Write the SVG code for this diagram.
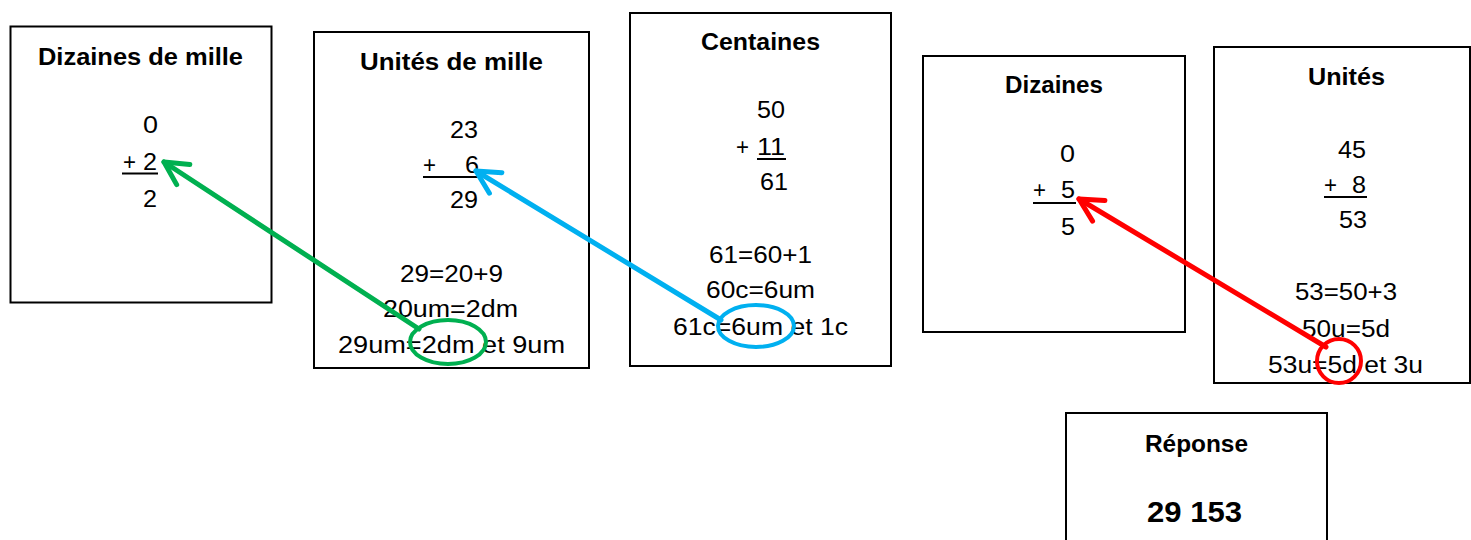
<svg xmlns="http://www.w3.org/2000/svg" width="1471" height="540" viewBox="0 0 1471 540">
<style>
.box{fill:#fff;stroke:#000;stroke-width:2}
.t{font-family:"Liberation Sans",Arial,sans-serif;font-size:23px;fill:#000}
.b{font-family:"Liberation Sans",Arial,sans-serif;font-size:23px;font-weight:bold;fill:#000}
.ul{stroke:#000;stroke-width:2}
.g{stroke:#00b050}.c{stroke:#00b0f0}.r{stroke:#ff0000}
.arr{fill:none;stroke-width:5;stroke-linecap:round}
.ring{fill:none;stroke-width:4}
</style>
<defs>
<marker id="mg" markerUnits="userSpaceOnUse" markerWidth="40" markerHeight="40" viewBox="-30 -20 40 40" refX="0" refY="0" orient="auto"><path d="M-23,-12 L0,0 L-23,12" fill="none" stroke="#00b050" stroke-width="5" stroke-linecap="round" stroke-linejoin="round"/></marker>
<marker id="mc" markerUnits="userSpaceOnUse" markerWidth="40" markerHeight="40" viewBox="-30 -20 40 40" refX="0" refY="0" orient="auto"><path d="M-23,-12 L0,0 L-23,12" fill="none" stroke="#00b0f0" stroke-width="5" stroke-linecap="round" stroke-linejoin="round"/></marker>
<marker id="mr" markerUnits="userSpaceOnUse" markerWidth="40" markerHeight="40" viewBox="-30 -20 40 40" refX="0" refY="0" orient="auto"><path d="M-23,-12 L0,0 L-23,12" fill="none" stroke="#ff0000" stroke-width="5" stroke-linecap="round" stroke-linejoin="round"/></marker>
</defs>
<rect width="1471" height="540" fill="#fff"/>

<g id="dizaines-de-mille">
<rect class="box" x="10.5" y="26.5" width="261" height="276"/>
<text class="b" x="38" y="65" textLength="205" lengthAdjust="spacingAndGlyphs">Dizaines de mille</text>
<text class="t" x="143" y="133" textLength="15" lengthAdjust="spacingAndGlyphs">0</text>
<text class="t" x="123" y="170" textLength="13" lengthAdjust="spacingAndGlyphs">+</text>
<text class="t" x="143" y="170" textLength="14" lengthAdjust="spacingAndGlyphs">2</text>
<line class="ul" x1="122" y1="173.5" x2="158" y2="173.5"/>
<text class="t" x="143" y="207" textLength="14" lengthAdjust="spacingAndGlyphs">2</text>
</g>

<g id="unites-de-mille">
<rect class="box" x="314" y="32" width="275" height="336"/>
<text class="b" x="360" y="70" textLength="183" lengthAdjust="spacingAndGlyphs">Unités de mille</text>
<text class="t" x="450" y="138" textLength="28" lengthAdjust="spacingAndGlyphs">23</text>
<text class="t" x="423" y="173" textLength="13" lengthAdjust="spacingAndGlyphs">+</text>
<text class="t" x="465" y="173" textLength="14" lengthAdjust="spacingAndGlyphs">6</text>
<line class="ul" x1="423" y1="177" x2="479" y2="177"/>
<text class="t" x="450" y="208" textLength="28" lengthAdjust="spacingAndGlyphs">29</text>
<text class="t" x="400" y="282" textLength="103" lengthAdjust="spacingAndGlyphs">29=20+9</text>
<text class="t" x="383" y="317" textLength="135" lengthAdjust="spacingAndGlyphs">20um=2dm</text>
<text class="t" x="338" y="353" textLength="227" lengthAdjust="spacingAndGlyphs">29um=2dm et 9um</text>
</g>

<g id="centaines">
<rect class="box" x="630" y="13" width="261" height="353"/>
<text class="b" x="701" y="50" textLength="119" lengthAdjust="spacingAndGlyphs">Centaines</text>
<text class="t" x="757" y="118" textLength="28" lengthAdjust="spacingAndGlyphs">50</text>
<text class="t" x="736" y="155" textLength="13" lengthAdjust="spacingAndGlyphs">+</text>
<text class="t" x="757" y="155" textLength="28" lengthAdjust="spacingAndGlyphs">11</text>
<line class="ul" x1="757" y1="159" x2="786" y2="159"/>
<text class="t" x="760" y="190" textLength="28" lengthAdjust="spacingAndGlyphs">61</text>
<text class="t" x="709" y="263" textLength="103" lengthAdjust="spacingAndGlyphs">61=60+1</text>
<text class="t" x="706" y="298" textLength="109" lengthAdjust="spacingAndGlyphs">60c=6um</text>
<text class="t" x="673" y="335" textLength="175" lengthAdjust="spacingAndGlyphs">61c=6um et 1c</text>
</g>

<g id="dizaines">
<rect class="box" x="923" y="56" width="262" height="276"/>
<text class="b" x="1005" y="93" textLength="98" lengthAdjust="spacingAndGlyphs">Dizaines</text>
<text class="t" x="1060" y="162" textLength="15" lengthAdjust="spacingAndGlyphs">0</text>
<text class="t" x="1033" y="198" textLength="13" lengthAdjust="spacingAndGlyphs">+</text>
<text class="t" x="1061" y="198" textLength="14" lengthAdjust="spacingAndGlyphs">5</text>
<line class="ul" x1="1033" y1="203" x2="1076" y2="203"/>
<text class="t" x="1061" y="235" textLength="14" lengthAdjust="spacingAndGlyphs">5</text>
</g>

<g id="unites">
<rect class="box" x="1214" y="47" width="256" height="336"/>
<text class="b" x="1308" y="85" textLength="77" lengthAdjust="spacingAndGlyphs">Unités</text>
<text class="t" x="1338" y="158" textLength="28" lengthAdjust="spacingAndGlyphs">45</text>
<text class="t" x="1324" y="193" textLength="13" lengthAdjust="spacingAndGlyphs">+</text>
<text class="t" x="1352" y="193" textLength="14" lengthAdjust="spacingAndGlyphs">8</text>
<line class="ul" x1="1324" y1="197" x2="1367" y2="197"/>
<text class="t" x="1339" y="228" textLength="28" lengthAdjust="spacingAndGlyphs">53</text>
<text class="t" x="1295" y="300" textLength="102" lengthAdjust="spacingAndGlyphs">53=50+3</text>
<text class="t" x="1302" y="337" textLength="88" lengthAdjust="spacingAndGlyphs">50u=5d</text>
<text class="t" x="1268" y="373" textLength="155" lengthAdjust="spacingAndGlyphs">53u=5d et 3u</text>
</g>

<g id="reponse">
<rect class="box" x="1066" y="413" width="261" height="140"/>
<text class="b" x="1145" y="452" textLength="103" lengthAdjust="spacingAndGlyphs">Réponse</text>
<text class="b" x="1147" y="522" style="font-size:29px" textLength="95" lengthAdjust="spacingAndGlyphs">29 153</text>
</g>

<g id="connectors">
<ellipse class="ring g" cx="448" cy="342" rx="38" ry="22"/>
<line class="arr g" x1="419" y1="329" x2="164" y2="162" marker-end="url(#mg)"/>
<ellipse class="ring c" cx="756" cy="326" rx="38" ry="21"/>
<line class="arr c" x1="721" y1="320" x2="476" y2="171" marker-end="url(#mc)"/>
<ellipse class="ring r" cx="1339" cy="361" rx="22" ry="22"/>
<line class="arr r" x1="1326" y1="347" x2="1079" y2="199" marker-end="url(#mr)"/>
</g>
</svg>
